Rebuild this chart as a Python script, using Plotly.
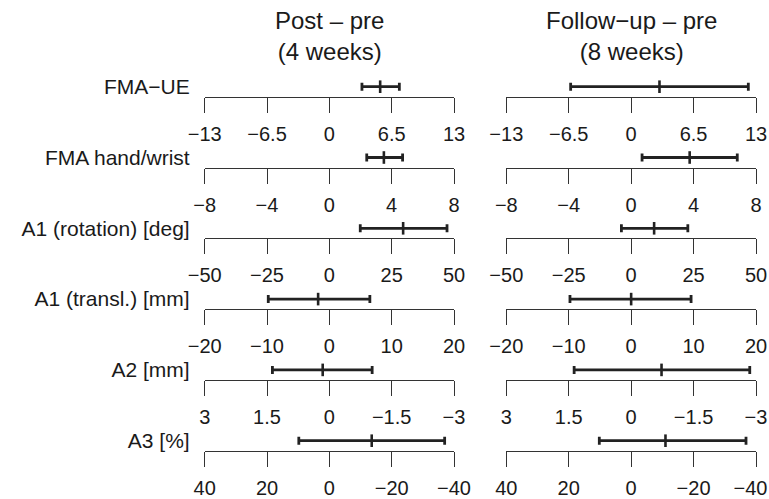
import plotly.graph_objects as go

# ---------------- data ----------------
row_labels = ["FMA−UE", "FMA hand/wrist", "A1 (rotation) [deg]",
              "A1 (transl.) [mm]", "A2 [mm]", "A3 [%]"]
column_titles = ["Post – pre<br>(4 weeks)", "Follow−up – pre<br>(8 weeks)"]

axis_ranges = [[-13, 13], [-8, 8], [-50, 50], [-20, 20], [3, -3], [40, -40]]
tick_vals = [[-13, -6.5, 0, 6.5, 13],
             [-8, -4, 0, 4, 8],
             [-50, -25, 0, 25, 50],
             [-20, -10, 0, 10, 20],
             [3, 1.5, 0, -1.5, -3],
             [40, 20, 0, -20, -40]]
tick_text = [["−13", "−6.5", "0", "6.5", "13"],
             ["−8", "−4", "0", "4", "8"],
             ["−50", "−25", "0", "25", "50"],
             ["−20", "−10", "0", "10", "20"],
             ["3", "1.5", "0", "−1.5", "−3"],
             ["40", "20", "0", "−20", "−40"]]

# Post - pre (4 weeks): lower CI, mean, upper CI
post_lower = [3.4, 2.4, 12.4, -9.8, -1.03, -37.0]
post_mean = [5.3, 3.5, 29.6, -1.8, 0.16, -13.6]
post_upper = [7.3, 4.7, 47.2, 6.5, 1.37, 9.8]

# Follow-up - pre (8 weeks)
follow_lower = [-6.3, 0.7, -3.9, -9.8, -2.85, -36.8]
follow_mean = [2.95, 3.75, 9.2, 0.0, -0.73, -11.0]
follow_upper = [12.2, 6.8, 22.7, 9.6, 1.37, 10.2]

series = [(post_lower, post_mean, post_upper),
          (follow_lower, follow_mean, follow_upper)]

# ---------------- layout geometry (pixels) ----------------
W, H = 769, 499
col_px = [(204.7, 454.0), (506.3, 756.0)]
axis_top_px = 96.7
row_step_px = 70.8
panel_h_px = 20

FONT = "Liberation Sans, Arial, Helvetica, sans-serif"
TXT = "#1a1a1a"
BAR = "#222222"
TICK_FONT = 20

fig = go.Figure()
layout = dict(width=W, height=H, margin=dict(l=0, r=0, t=0, b=0),
              paper_bgcolor="white", plot_bgcolor="white", showlegend=False,
              font=dict(family=FONT, color=TXT))


def fit_right_edge(texts, c):
    # keep the right-most label of the right column inside the page
    out = list(texts)
    if c == 1 and len(out[-1]) > 2:
        out[-1] = out[-1] + "\u00a0\u00a0"
    return out


n = 0
for r, label in enumerate(row_labels):
    y_line = axis_top_px + r * row_step_px
    d0 = 1 - y_line / H
    d1 = 1 - (y_line - panel_h_px) / H
    for c in range(2):
        n += 1
        sfx = "" if n == 1 else str(n)
        lo, mu, hi = series[c][0][r], series[c][1][r], series[c][2][r]
        fig.add_trace(go.Scatter(
            x=[mu], y=[label], xaxis="x" + sfx, yaxis="y" + sfx,
            mode="markers", cliponaxis=False,
            marker=dict(symbol="line-ns", size=9, color=BAR,
                        line=dict(width=2.6, color=BAR)),
            error_x=dict(type="data", symmetric=False,
                         array=[hi - mu], arrayminus=[mu - lo],
                         color=BAR, thickness=2.8, width=4),
            hoverinfo="skip"))
        layout["xaxis" + sfx] = dict(
            domain=[col_px[c][0] / W, col_px[c][1] / W],
            range=axis_ranges[r], anchor="y" + sfx, side="bottom",
            showline=True, linecolor="#333", linewidth=1.3,
            ticks="outside", ticklen=15, tickwidth=1.3, tickcolor="#333",
            tickmode="array", tickvals=tick_vals[r],
            ticktext=fit_right_edge(tick_text[r], c),
            tickfont=dict(size=TICK_FONT, family=FONT, color=TXT),
            ticklabelstandoff=4, ticklabeloverflow="allow",
            showgrid=False, zeroline=False, automargin=False, fixedrange=True)
        layout["yaxis" + sfx] = dict(
            domain=[d0, d1], anchor="x" + sfx, type="category",
            categoryarray=[label], range=[-0.5, 0.5],
            showgrid=False, showline=False, zeroline=False, ticks="",
            showticklabels=(c == 0),
            tickfont=dict(size=21, family=FONT, color=TXT),
            ticklabelstandoff=14, automargin=False, fixedrange=True)

annotations = []
for c, title in enumerate(column_titles):
    annotations.append(dict(
        text=title, x=(col_px[c][0] + col_px[c][1]) / 2 / W, xref="paper",
        y=1 - 36 / H, yref="paper", xanchor="center", yanchor="middle",
        showarrow=False, font=dict(size=24, family=FONT, color=TXT)))
layout["annotations"] = annotations

fig.update_layout(**layout)
fig.write_html("out.html")
